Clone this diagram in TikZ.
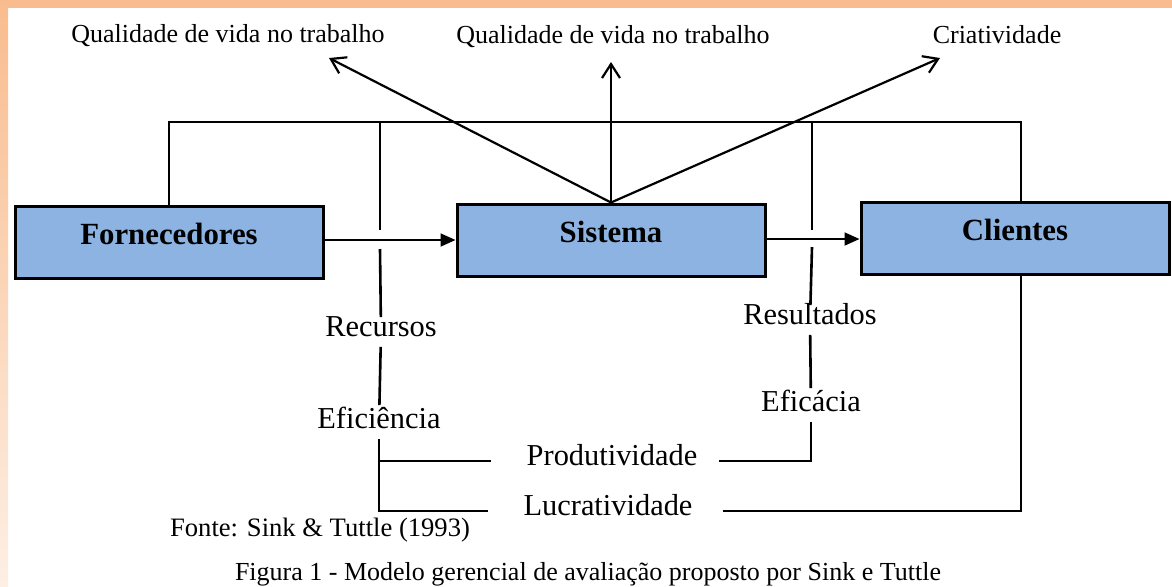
\documentclass[tikz,border=0pt]{standalone}
\usepackage{fontspec}
\setmainfont{Liberation Serif}
\usepackage{tikz}
\usetikzlibrary{arrows.meta,positioning,calc}
\definecolor{caixaazul}{HTML}{8DB3E2}
\definecolor{laranja}{HTML}{F9BC8E}
\definecolor{palido}{HTML}{FDEFE4}
\tikzset{
  caixa/.style={draw=black, line width=1.5pt, fill=caixaazul,
                minimum width=154pt, minimum height=36pt,
                font=\fontsize{15.4}{18}\selectfont\bfseries,
                text height=11pt, text depth=9pt},
  rotulo/.style={font=\fontsize{15.2}{18}\selectfont,
                 text height=0.8em, text depth=0.35em, inner sep=1.5pt},
  topo/.style={font=\fontsize{13}{16}\selectfont},
  liga/.style={line width=1.3pt},
  fluxo/.style={line width=0.9pt, -{Triangle[length=7.5pt,width=6.5pt]}},
  leque/.style={line width=1.1pt, -{Straight Barb[length=7pt,width=9pt]}},
}

\begin{document}
\begin{tikzpicture}[x=0.5pt, y=-0.5pt]

  % fundo
  \useasboundingbox (0,0) rectangle (1172,586);
  \fill[white] (0,0) rectangle (1172,586);
  \shade[left color=laranja, middle color=palido, right color=laranja]
    (0,0) rectangle (1172,7);
  \shade[top color=laranja, bottom color=palido] (0,0) rectangle (8,586);

  % caixas
  \node[caixa] (forn) at (169,242.5) {Fornecedores};
  \node[caixa] (sist) at (611,240) {Sistema};
  \node[caixa] (cli) at (1015,238.5) {Clientes};

  \draw[fluxo] (forn.east |- sist) -- (sist.west);
  \draw[fluxo] (sist.east |- 0,239) -- (cli.west |- 0,239);

  % saidas do sistema
  \node[topo] (qvleft) at (228,36) {Qualidade de vida no trabalho};
  \node[topo] (qvmid) at (613,37) {Qualidade de vida no trabalho};
  \node[topo] (criat) at (997,35) {Criatividade};
  \coordinate (pqvleft) at (329,58);
  \coordinate (pqvmid) at (611,62);
  \coordinate (pcriat) at (940,58);
  \draw[leque] (sist.north) -- (pqvleft);
  \draw[leque] (sist.north) -- (pqvmid);
  \draw[leque] (sist.north) -- (pcriat);

  % moldura superior
  \coordinate (cantoE) at (169,122);
  \coordinate (cantoD) at (1021,122);
  \draw[liga] (forn.north) -- (cantoE) -- (cantoD) -- (cantoD |- cli.north);

  % rotulos
  \node[rotulo] (recursos) at (381,332) {Recursos};
  \node[rotulo] (efic) at (379,424) {Eficiência};
  \node[rotulo] (produt) at (612,461) {Produtividade};
  \node[rotulo] (lucro) at (608,511) {Lucratividade};
  \node[rotulo] (result) at (810,320) {Resultados};
  \node[rotulo] (eficacia) at (811,407) {Eficácia};

  % ramo dos recursos
  \coordinate (recTopo) at (380,122);
  \coordinate (recA) at (380,230);
  \coordinate (recB) at (380,249);
  \draw[liga] (recTopo) -- (recA);
  \draw[liga] (recB) -- (recursos);
  \draw[liga, shorten >=2pt] (recursos) -- (efic);
  \draw[liga, shorten >=16pt] (efic) |- (lucro);
  \draw[liga, shorten >=16pt] (efic |- produt) -- (produt);

  % ramo dos resultados
  \coordinate (resTopo) at (812,122);
  \coordinate (resA) at (812,230);
  \coordinate (resB) at (812,247);
  \draw[liga] (resTopo) -- (resA);
  \draw[liga] (resB) -- (result);
  \draw[liga, shorten >=2pt] (result) -- (eficacia);
  \draw[liga, shorten >=9pt] (eficacia) |- (produt);
  \draw[liga, shorten <=13.5pt] (lucro) -| (cantoD |- cli.south);

  % fonte e legenda
  \node[font=\fontsize{13.3}{16}\selectfont] (fonte) at (320,530)
    {Fonte: Sink \& Tuttle (1993)};
  \node[font=\fontsize{13}{16}\selectfont] (legenda) at (588,574)
    {Figura 1 - Modelo gerencial de avaliação proposto por Sink e Tuttle};

\end{tikzpicture}
\end{document}
